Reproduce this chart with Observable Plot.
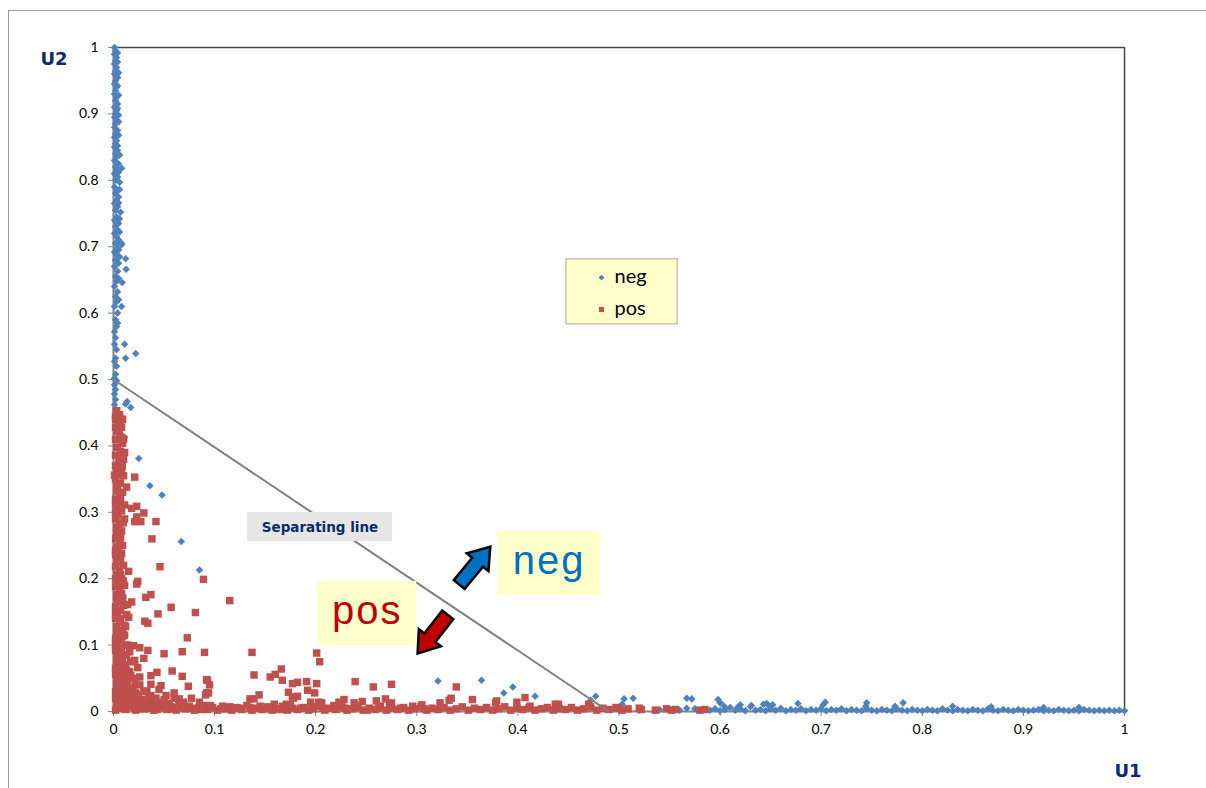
<!DOCTYPE html>
<html>
<head>
<meta charset="utf-8">
<script src="https://cdn.jsdelivr.net/npm/d3@7"></script>
<script src="https://cdn.jsdelivr.net/npm/@observablehq/plot@0.6"></script>
<style>
  html, body { margin: 0; padding: 0; background: #fff; overflow: hidden; }
  #wrap { position: relative; width: 1206px; height: 788px; }
  #border { position: absolute; left: 8px; top: 10px; width: 1400px; height: 1000px; border-left: 1px solid #9c9c9c; border-top: 1px solid #9c9c9c; }
  #chart { position: absolute; left: 0; top: 0; }
</style>
</head>
<body>
<div id="wrap"><div id="border"></div><div id="chart"></div></div>
<script>
// ---- tick values ----
const xTicks = [0, 0.1, 0.2, 0.3, 0.4, 0.5, 0.6, 0.7, 0.8, 0.9, 1];
const yTicks = [0, 0.1, 0.2, 0.3, 0.4, 0.5, 0.6, 0.7, 0.8, 0.9, 1];

// ---- series "neg": [U1, U2] ----
const negAlongU2 = [
[0.001,1.0],[0.002,0.995],[0.001,0.99],[0.003,0.985],[0.002,0.98],[0.001,0.975],[0.003,0.97],[0.002,0.965],[0.001,0.96],[0.004,0.955],
[0.002,0.95],[0.001,0.945],[0.003,0.94],[0.002,0.935],[0.001,0.93],[0.003,0.925],[0.002,0.92],[0.004,0.915],[0.001,0.91],[0.003,0.905],
[0.002,0.9],[0.005,0.898],[0.001,0.895],[0.003,0.89],[0.002,0.885],[0.001,0.88],[0.004,0.875],[0.002,0.87],[0.001,0.865],[0.003,0.86],
[0.002,0.855],[0.001,0.85],[0.004,0.845],[0.002,0.84],[0.003,0.835],[0.001,0.83],[0.005,0.825],[0.002,0.82],[0.008,0.818],[0.003,0.815],
[0.001,0.81],[0.004,0.805],[0.002,0.8],[0.006,0.797],[0.001,0.79],[0.004,0.785],[0.002,0.78],[0.005,0.775],[0.003,0.77],[0.001,0.765],
[0.004,0.76],[0.002,0.755],[0.007,0.752],[0.003,0.745],[0.001,0.74],[0.005,0.735],[0.002,0.73],[0.004,0.725],[0.001,0.72],[0.003,0.715],
[0.005,0.71],[0.002,0.705],[0.008,0.703],[0.004,0.698],[0.001,0.692],[0.003,0.688],[0.002,0.68],[0.005,0.675],[0.001,0.67],[0.004,0.663],
[0.002,0.655],[0.003,0.648],[0.001,0.64],[0.004,0.632],[0.002,0.625],[0.003,0.617],[0.001,0.61],[0.004,0.6],[0.002,0.59],[0.003,0.58],
[0.001,0.572],[0.002,0.563],[0.001,0.553],[0.003,0.545],[0.002,0.532],[0.001,0.527],[0.003,0.52],[0.002,0.508],[0.001,0.502],[0.003,0.498],
[0.001,0.492],[0.002,0.485],[0.001,0.478],[0.002,0.47],[0.001,0.462],[0.002,0.455],
[0.004,0.992],[0.004,0.978],[0.005,0.962],[0.004,0.942],[0.005,0.928],[0.004,0.908],[0.005,0.888],[0.005,0.868],[0.004,0.852],[0.006,0.838],
[0.005,0.812],[0.006,0.786],[0.005,0.766],[0.006,0.742],[0.006,0.722],[0.005,0.695],[0.006,0.685],[0.005,0.652],[0.005,0.62],[0.004,0.585]
];
const negScatter = [
[0.012,0.682],[0.0125,0.666],[0.0086,0.646],[0.008,0.61],[0.011,0.553],[0.022,0.539],[0.012,0.532],[0.008,0.705],[0.005,0.709],
[0.012,0.463],[0.0135,0.467],[0.017,0.458],[0.008,0.444],[0.011,0.413],[0.025,0.381],[0.036,0.34],[0.048,0.326],[0.067,0.256],[0.085,0.213],
[0.321,0.046],[0.364,0.047],[0.386,0.028],[0.395,0.037],[0.417,0.023],[0.472,0.017],[0.477,0.023],[0.503,0.011],[0.505,0.019],[0.514,0.02],
[0.567,0.02],[0.572,0.019],[0.567,0.005],[0.598,0.018],[0.6,0.013],[0.604,0.008],[0.618,0.007],[0.62,0.01],[0.631,0.009],[0.643,0.011],
[0.646,0.012],[0.649,0.008],[0.652,0.01],[0.677,0.012],[0.702,0.01],[0.704,0.014],[0.744,0.008],[0.745,0.013],[0.773,0.008],[0.781,0.013],
[0.83,0.008],[0.868,0.007],[0.92,0.006],[0.955,0.006]
];
const negAlongU1 = [
[0.59,0.002],[0.595,0.004],[0.6,0.001],[0.605,0.003],[0.61,0.006],[0.615,0.002],[0.62,0.004],[0.625,0.001],[0.63,0.007],[0.635,0.002],
[0.64,0.003],[0.645,0.001],[0.65,0.004],[0.655,0.002],[0.66,0.005],[0.665,0.001],[0.67,0.003],[0.675,0.002],[0.68,0.004],[0.685,0.001],
[0.69,0.003],[0.695,0.002],[0.7,0.005],[0.705,0.001],[0.71,0.003],[0.715,0.002],[0.72,0.004],[0.725,0.001],[0.73,0.003],[0.735,0.002],
[0.74,0.001],[0.745,0.004],[0.75,0.002],[0.755,0.001],[0.76,0.003],[0.765,0.002],[0.77,0.001],[0.775,0.004],[0.78,0.002],[0.785,0.001],
[0.79,0.003],[0.795,0.002],[0.8,0.001],[0.805,0.003],[0.81,0.002],[0.815,0.001],[0.82,0.004],[0.825,0.002],[0.83,0.001],[0.835,0.003],
[0.84,0.002],[0.845,0.001],[0.85,0.003],[0.855,0.002],[0.86,0.001],[0.865,0.004],[0.87,0.002],[0.875,0.001],[0.88,0.003],[0.885,0.002],
[0.89,0.001],[0.895,0.003],[0.9,0.002],[0.905,0.001],[0.91,0.002],[0.915,0.003],[0.92,0.001],[0.925,0.002],[0.93,0.001],[0.935,0.003],
[0.94,0.002],[0.945,0.001],[0.95,0.002],[0.955,0.001],[0.96,0.003],[0.965,0.002],[0.97,0.001],[0.975,0.002],[0.98,0.001],[0.985,0.002],
[0.99,0.001],[0.995,0.002],[1.0,0.001],[0.52,0.002],[0.54,0.003],[0.56,0.002],[0.575,0.004]
];

// ---- series "pos": [U1, U2] ----
const posAlongU2 = [
[0.003,0.453],[0.006,0.447],[0.002,0.44],[0.005,0.434],[0.008,0.428],[0.003,0.422],[0.006,0.416],[0.002,0.41],[0.009,0.404],[0.004,0.398],
[0.007,0.392],[0.002,0.386],[0.01,0.38],[0.005,0.374],[0.008,0.368],[0.003,0.362],[0.006,0.356],[0.002,0.35],[0.007,0.344],[0.004,0.338],
[0.003,0.332],[0.006,0.326],[0.002,0.32],[0.005,0.314],[0.003,0.308],[0.008,0.302],[0.004,0.296],[0.002,0.29],[0.006,0.284],[0.003,0.278],
[0.008,0.272],[0.004,0.266],[0.002,0.26],[0.006,0.254],[0.003,0.248],[0.005,0.242],[0.002,0.236],[0.007,0.23],[0.004,0.224],[0.002,0.218],
[0.006,0.212],[0.003,0.206],[0.008,0.2],[0.004,0.194],[0.002,0.188],[0.006,0.182],[0.003,0.176],[0.009,0.17],[0.005,0.164],[0.002,0.158],
[0.007,0.152],[0.004,0.146],[0.002,0.14],[0.006,0.134],[0.003,0.128],[0.009,0.122],[0.005,0.116],[0.002,0.11],[0.007,0.104],[0.004,0.098],
[0.002,0.092],[0.008,0.086],[0.005,0.08],[0.003,0.074],[0.009,0.068],[0.006,0.062],[0.002,0.056],[0.01,0.05],[0.005,0.044],[0.003,0.038],
[0.008,0.032],[0.004,0.026],[0.002,0.02],[0.009,0.014],[0.005,0.008],[0.002,0.002],[0.011,0.004],
[0.009,0.44],[0.01,0.41],[0.011,0.39],[0.01,0.355],[0.009,0.33],[0.011,0.29],[0.009,0.25],[0.01,0.22],[0.011,0.19],[0.01,0.16],
[0.011,0.13],[0.012,0.1],[0.012,0.07],[0.013,0.04],[0.012,0.02],
[0.002,0.445],[0.002,0.428],[0.003,0.398],[0.002,0.37],[0.003,0.34],[0.002,0.312],[0.002,0.3],[0.003,0.27],[0.002,0.243],[0.003,0.228],
[0.002,0.2],[0.003,0.17],[0.002,0.148],[0.003,0.118],[0.002,0.1],[0.003,0.085],[0.002,0.065],[0.003,0.048],[0.002,0.03],[0.003,0.012],
[0.007,0.438],[0.008,0.386],[0.007,0.32],[0.007,0.262],[0.008,0.238],[0.007,0.206],[0.008,0.178],[0.007,0.14],[0.008,0.112],[0.008,0.094],
[0.009,0.078],[0.008,0.058],[0.009,0.042],[0.007,0.022],[0.01,0.01],[0.006,0.005]
];
const posNearOrigin = [
[0.015,0.02],[0.02,0.015],[0.025,0.025],[0.03,0.012],[0.035,0.02],[0.012,0.03],[0.018,0.035],[0.022,0.028],[0.028,0.018],[0.04,0.015],
[0.045,0.01],[0.05,0.018],[0.014,0.045],[0.016,0.06],[0.02,0.05],[0.01,0.07],[0.013,0.085],[0.017,0.075],[0.055,0.012],[0.06,0.02],
[0.033,0.03],[0.038,0.008],[0.026,0.04],[0.065,0.013],[0.07,0.009],
[0.016,0.012],[0.021,0.006],[0.024,0.017],[0.029,0.008],[0.033,0.014],[0.042,0.006],[0.047,0.014],[0.052,0.008],[0.015,0.028],[0.019,0.022],
[0.014,0.036],[0.017,0.054],[0.013,0.062],[0.011,0.058],[0.016,0.09],[0.014,0.1],[0.011,0.115],[0.023,0.01],[0.036,0.011],[0.057,0.005]
];
const posAlongU1 = [
[0.012,0.003],[0.018,0.008],[0.022,0.002],[0.027,0.012],[0.031,0.004],[0.036,0.009],[0.04,0.002],[0.045,0.006],[0.049,0.011],[0.053,0.003],
[0.058,0.007],[0.062,0.002],[0.066,0.01],[0.071,0.004],[0.075,0.008],[0.08,0.002],[0.084,0.005],[0.089,0.009],[0.093,0.003],[0.098,0.006],
[0.103,0.002],[0.108,0.008],[0.112,0.004],[0.117,0.002],[0.122,0.006],[0.127,0.003],[0.132,0.009],[0.137,0.002],[0.142,0.005],[0.147,0.003],
[0.152,0.007],[0.157,0.002],[0.162,0.004],[0.167,0.008],[0.172,0.002],[0.177,0.005],[0.182,0.003],[0.188,0.006],[0.193,0.002],[0.198,0.004],
[0.204,0.008],[0.209,0.002],[0.214,0.005],[0.22,0.003],[0.226,0.007],[0.231,0.002],[0.236,0.004],[0.242,0.006],[0.247,0.002],[0.253,0.005],
[0.259,0.003],[0.264,0.008],[0.27,0.002],[0.275,0.005],[0.281,0.003],[0.287,0.006],[0.292,0.002],[0.298,0.004],[0.304,0.007],[0.31,0.002],
[0.315,0.005],[0.321,0.003],[0.327,0.006],[0.333,0.002],[0.339,0.004],[0.345,0.007],[0.351,0.002],[0.357,0.005],[0.363,0.003],[0.369,0.006],
[0.375,0.002],[0.381,0.004],[0.387,0.007],[0.393,0.002],[0.399,0.005],[0.405,0.003],[0.411,0.006],[0.417,0.002],[0.423,0.004],[0.429,0.006],
[0.435,0.002],[0.441,0.004],[0.447,0.003],[0.453,0.006],[0.459,0.002],[0.465,0.004],[0.471,0.007],[0.478,0.002],[0.484,0.005],[0.49,0.003],
[0.497,0.006],[0.503,0.002],[0.509,0.004],[0.522,0.003],[0.536,0.002],[0.547,0.004],[0.552,0.002],[0.556,0.003],[0.58,0.002],[0.585,0.003],
[0.015,0.007],[0.025,0.004],[0.034,0.006],[0.043,0.003],[0.051,0.007],[0.06,0.004],[0.069,0.006],[0.078,0.005],[0.087,0.003],[0.096,0.009],
[0.106,0.004],[0.115,0.007],[0.125,0.005],[0.135,0.006],[0.145,0.008],[0.155,0.004],[0.165,0.003],[0.175,0.009],[0.185,0.005],[0.196,0.007],
[0.207,0.005],[0.218,0.009],[0.229,0.005],[0.24,0.009],[0.251,0.002],[0.262,0.005],[0.273,0.009],[0.284,0.005],[0.296,0.008],[0.307,0.004]
];
const posScatter = [
[0.046,0.218],[0.089,0.199],[0.015,0.211],[0.115,0.167],[0.024,0.196],[0.023,0.192],[0.037,0.176],[0.032,0.172],[0.009,0.171],[0.018,0.165],
[0.01,0.161],[0.014,0.161],[0.057,0.157],[0.044,0.147],[0.081,0.149],[0.013,0.146],[0.015,0.142],[0.031,0.136],[0.034,0.133],[0.012,0.128],
[0.073,0.111],[0.0096,0.114],[0.02,0.099],[0.026,0.096],[0.034,0.092],[0.068,0.09],[0.09,0.089],[0.05,0.087],[0.137,0.089],[0.201,0.088],
[0.204,0.075],[0.03,0.08],[0.021,0.077],[0.024,0.066],[0.058,0.061],[0.043,0.059],[0.037,0.054],[0.068,0.053],[0.139,0.055],[0.166,0.064],
[0.16,0.056],[0.155,0.052],[0.167,0.047],[0.026,0.052],[0.092,0.048],[0.095,0.04],[0.037,0.041],[0.047,0.039],[0.014,0.044],[0.074,0.038],
[0.022,0.041],[0.177,0.042],[0.182,0.044],[0.191,0.045],[0.201,0.042],[0.045,0.033],[0.019,0.034],[0.03,0.031],[0.06,0.028],[0.052,0.024],
[0.037,0.024],[0.092,0.028],[0.091,0.025],[0.173,0.029],[0.199,0.028],[0.182,0.023],[0.144,0.025],[0.135,0.019],[0.139,0.019],[0.077,0.02],
[0.065,0.019],[0.042,0.02],[0.023,0.022],[0.203,0.014],[0.195,0.014],[0.178,0.02],[0.171,0.011],[0.159,0.011],[0.085,0.014],[0.069,0.014],
[0.003,0.453],[0.004,0.446],[0.005,0.422],[0.007,0.413],[0.0086,0.388],[0.006,0.378],[0.0086,0.37],[0.008,0.362],[0.001,0.356],[0.021,0.353],
[0.013,0.338],[0.011,0.311],[0.023,0.309],[0.018,0.306],[0.03,0.299],[0.023,0.293],[0.021,0.286],[0.027,0.286],[0.042,0.286],[0.0096,0.284],
[0.005,0.275],[0.038,0.26],[0.006,0.199],[0.0096,0.197],[0.007,0.191],
[0.239,0.045],[0.257,0.037],[0.275,0.041],[0.093,0.047],[0.094,0.028],[0.177,0.022],[0.192,0.032],[0.206,0.013],[0.223,0.014],[0.228,0.018],
[0.238,0.013],[0.246,0.015],[0.26,0.016],[0.269,0.019],[0.275,0.013],[0.305,0.01],[0.323,0.013],[0.332,0.017],[0.334,0.02],[0.339,0.037],
[0.355,0.018],[0.378,0.013],[0.379,0.016],[0.399,0.014],[0.407,0.021],[0.412,0.008],[0.44,0.011],[0.437,0.011],[0.47,0.011],[0.472,0.007],
[0.5,0.005],[0.52,0.005]
];

// ---- separating line endpoints [U1, U2] ----
const separatingLine = [[0, 0.5], [0.49, 0]];

// ---- annotation anchors (data units) ----
const legendBox = {x1: 0.448, x2: 0.558, y1: 0.583, y2: 0.681};
const legendItems = [
  {label: "neg", x: 0.4827, y: 0.6536},
  {label: "pos", x: 0.4827, y: 0.6054}
];
const negNote = {text: "neg", x1: 0.380, x2: 0.482, y1: 0.175, y2: 0.271};
const posNote = {text: "pos", x1: 0.202, x2: 0.300, y1: 0.099, y2: 0.196};
const sepNote = {text: "Separating line", x1: 0.1325, x2: 0.276, y1: 0.256, y2: 0.2997};
const arrows = [
  {x: 0.357, y: 0.219, angle: 39.4, fill: "#0070C0"},
  {x: 0.316, y: 0.117, angle: 218, fill: "#C00000"}
];

// ---- build tables ----
const toRows = (arr) => arr.map(([u1, u2]) => ({u1, u2}));
const negRows = toRows([...negAlongU2, ...negScatter, ...negAlongU1]);
const posRows = toRows([...posAlongU2, ...posNearOrigin, ...posAlongU1, ...posScatter]);

const BLUE = "#4F81BD", RED = "#C0504D", NAVY = "#0D2B6B";

// custom diamond (square rotated 45°)
const diamond = {
  draw(ctx, size) {
    const r = Math.sqrt(size / 2);
    ctx.moveTo(0, -r); ctx.lineTo(r, 0); ctx.lineTo(0, r); ctx.lineTo(-r, 0); ctx.closePath();
  }
};
// block arrow with baked-in rotation
function blockArrow(angleDeg) {
  const a = angleDeg * Math.PI / 180, c = Math.cos(a), s = Math.sin(a);
  const pts = [[0,-25],[14,-5],[7,-5],[7,24],[-7,24],[-7,-5],[-14,-5]];
  return {
    draw(ctx) {
      pts.forEach(([px, py], i) => {
        const x = px * c - py * s, y = px * s + py * c;
        i ? ctx.lineTo(x, y) : ctx.moveTo(x, y);
      });
      ctx.closePath();
    }
  };
}

const fmt = (d) => String(d);

const chart = Plot.plot({
  width: 1206,
  height: 788,
  marginLeft: 113,
  marginRight: 82,
  marginTop: 47,
  marginBottom: 77,
  x: {domain: [0, 1]},
  y: {domain: [0, 1]},
  style: {fontFamily: "Lato, 'Open Sans', sans-serif", fontSize: "14px", background: "transparent", overflow: "visible"},
  marks: [
    Plot.frame({stroke: "#454545", strokeWidth: 1.5}),
    Plot.ruleX([0], {stroke: "#868686", strokeWidth: 1.5}),
    Plot.ruleY([0], {stroke: "#868686", strokeWidth: 1.5}),
    Plot.axisX({ticks: xTicks, tickFormat: fmt, tickSize: 5, tickPadding: 8, stroke: "#868686", fill: "#000", label: null, fontSize: 14}),
    Plot.axisY({ticks: yTicks, tickFormat: fmt, tickSize: 5, tickPadding: 10, stroke: "#868686", fill: "#000", label: null, fontSize: 14}),
    // series
    Plot.dot(negRows, {x: "u1", y: "u2", symbol: diamond, r: 3, fill: BLUE, stroke: "none"}),
    Plot.dot(posRows, {x: "u1", y: "u2", symbol: "square", r: 4.2, fill: RED, stroke: "none"}),
    // separating line
    Plot.line(separatingLine, {x: d => d[0], y: d => d[1], stroke: "#7F7F7F", strokeWidth: 2}),
    // separating line label
    Plot.rect([sepNote], {x1: "x1", x2: "x2", y1: "y1", y2: "y2", fill: "#E6E6E6"}),
    Plot.text([sepNote], {x: d => (d.x1 + d.x2) / 2, y: d => (d.y1 + d.y2) / 2, text: "text", fill: NAVY, fontWeight: "bold", fontSize: 13.5, fontFamily: "DejaVu Sans", dy: 1}),
    // neg / pos notes
    Plot.rect([negNote, posNote], {x1: "x1", x2: "x2", y1: "y1", y2: "y2", fill: "#FFFFCC"}),
    Plot.text([negNote], {x: d => (d.x1 + d.x2) / 2, y: d => (d.y1 + d.y2) / 2, text: "text", fill: "#0070C0", fontSize: 40, fontFamily: "'Liberation Sans', Arial, sans-serif", dy: -2}),
    Plot.text([posNote], {x: d => (d.x1 + d.x2) / 2, y: d => (d.y1 + d.y2) / 2, text: "text", fill: "#C00000", fontSize: 40, fontFamily: "'Liberation Sans', Arial, sans-serif", dy: -2}),
    // arrows
    Plot.dot([arrows[0]], {x: "x", y: "y", symbol: blockArrow(arrows[0].angle), fill: "fill", stroke: "#000", strokeWidth: 2.5, r: 10}),
    Plot.dot([arrows[1]], {x: "x", y: "y", symbol: blockArrow(arrows[1].angle), fill: "fill", stroke: "#000", strokeWidth: 2.5, r: 10}),
    // legend
    Plot.rect([legendBox], {x1: "x1", x2: "x2", y1: "y1", y2: "y2", fill: "#FFFFCC", stroke: "#A6A6A6", strokeWidth: 1}),
    Plot.dot([legendItems[0]], {x: "x", y: "y", symbol: diamond, r: 2.3, fill: BLUE}),
    Plot.dot([legendItems[1]], {x: "x", y: "y", symbol: "square", r: 2.9, fill: RED}),
    Plot.text(legendItems, {x: "x", y: "y", text: "label", dx: 13, textAnchor: "start", fontSize: 20, fill: "#000", dy: -1}),
    // axis titles
    Plot.text(["U2"], {frameAnchor: "top-left", text: d => d, dx: -73, dy: 12, lineAnchor: "middle", textAnchor: "start", fill: NAVY, fontSize: 18, fontWeight: "bold", fontFamily: "DejaVu Sans"}),
    Plot.text(["U1"], {frameAnchor: "bottom-right", text: d => d, dx: -10, dy: 60, lineAnchor: "middle", textAnchor: "start", fill: NAVY, fontSize: 18, fontWeight: "bold", fontFamily: "DejaVu Sans"})
  ]
});
// the big note words are letter-spaced in the original
d3.select(chart).selectAll("text")
  .filter(function () { const t = this.textContent; return (t === "neg" || t === "pos") && this.closest("g[font-size='40']"); })
  .attr("letter-spacing", 2);
document.getElementById("chart").appendChild(chart);
</script>
</body>
</html>
